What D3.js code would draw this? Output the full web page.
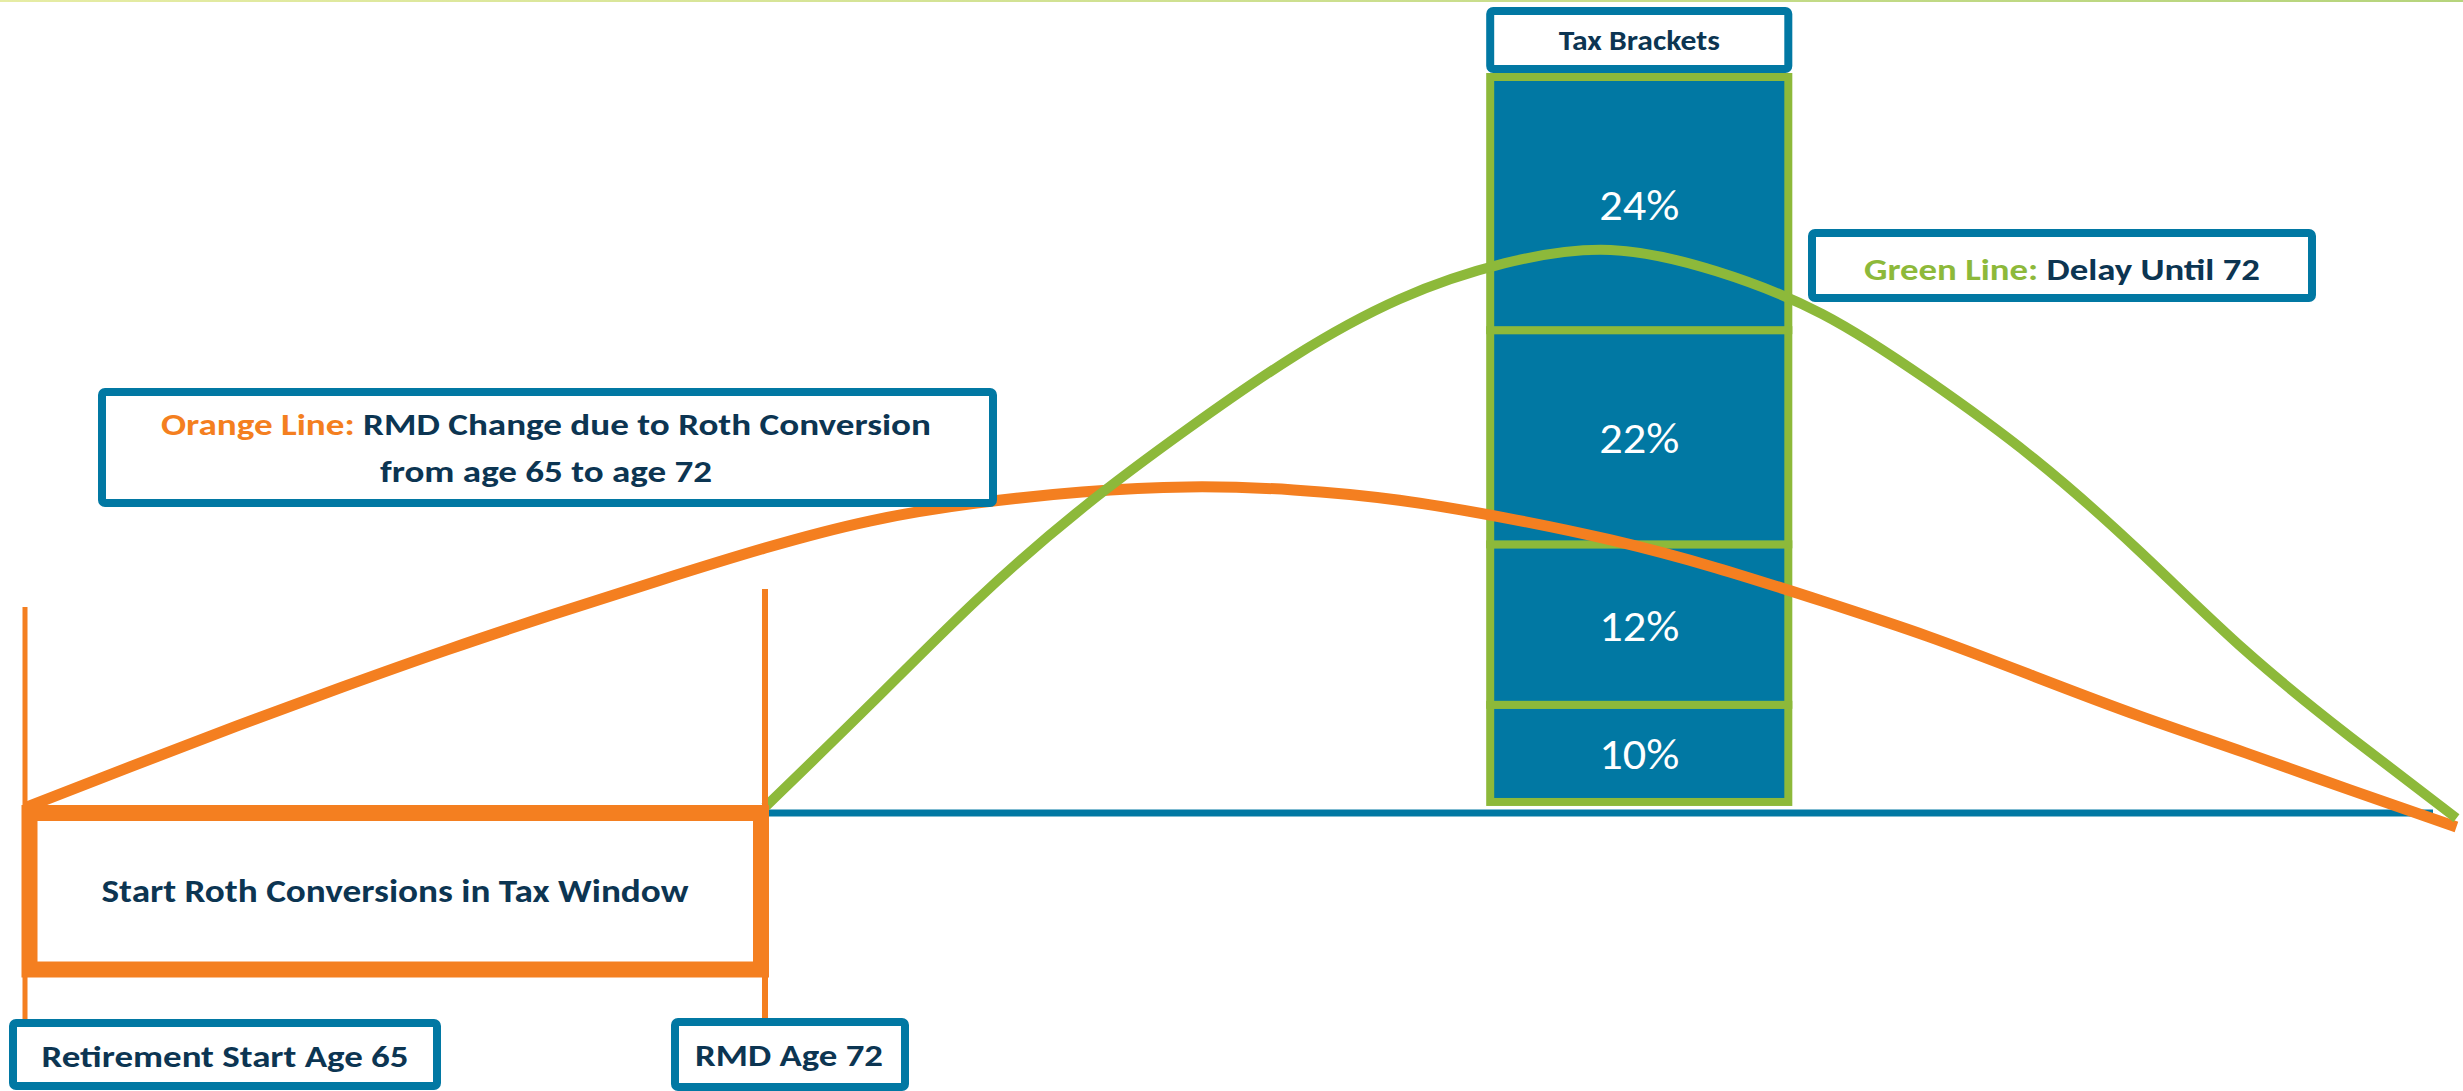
<!DOCTYPE html>
<html>
<head>
<meta charset="utf-8">
<script src="https://cdn.jsdelivr.net/npm/d3@7"></script>
<style>
  html, body { margin: 0; padding: 0; background: #ffffff; }
  svg { display: block; }
</style>
</head>
<body>
<svg id="chart" width="2463" height="1091"></svg>
<script>
// ---- data -------------------------------------------------------------
// Orange line: RMD change with Roth conversions from age 65 to age 72
const orangeAges   = [65, 66, 67, 68, 69, 70, 71, 72, 73, 74, 75, 76, 77, 78, 79, 80, 81, 82, 83, 84, 85, 86, 87, 88];
const orangeValues = [0.7, 6.3, 11.8, 17.1, 22.2, 27.0, 31.6, 36.0, 39.7, 42.1, 43.6, 44.3, 43.9, 42.5, 40.1, 37.1, 33.3, 28.8, 24.0, 18.6, 13.2, 8.2, 3.1, -1.9];

// Green line: delay until 72
const greenAges   = [72, 73, 74, 75, 76, 77, 78, 79, 80, 81, 82, 83, 84, 85, 86, 87, 88];
const greenValues = [0.8, 14.8, 28.9, 41.4, 52.2, 62.0, 69.8, 74.7, 76.5, 73.6, 67.8, 58.8, 48.2, 35.6, 22.1, 10.3, -0.7];

// Tax bracket bands (bottom to top) on the same income axis
const bracketLabels = ["10%", "12%", "22%", "24%"];
const bracketBounds = [1.5, 14.7, 36.5, 65.6, 100];
const bracketAgeSpan = [78.86, 81.68];

// Milestone ages
const milestoneAges   = [65, 72];
const milestoneLabels = ["Retirement Start Age 65", "RMD Age 72"];

// ---- styling ----------------------------------------------------------
const BLUE   = "#0178a3";
const GREEN  = "#8db93a";
const ORANGE = "#f47f20";
const NAVY   = "#0c3552";
const FONT   = "Carlito, Calibri, Lato, 'Noto Sans', sans-serif";

const W = 2463, H = 1091;
const svg = d3.select("#chart");

const x = d3.scaleLinear().domain([65, 88]).range([25, 25 + 23 * 740 / 7]);
const y = d3.scaleLinear().domain([0, 100]).range([813, 77]);

// thin gradient rule along the top edge
const defs = svg.append("defs");
const grad = defs.append("linearGradient").attr("id", "topRule")
  .attr("x1", "0%").attr("x2", "100%");
grad.append("stop").attr("offset", "0%").attr("stop-color", "#e6eca4");
grad.append("stop").attr("offset", "100%").attr("stop-color", "#b6d47c");
svg.append("rect").attr("x", 0).attr("y", 0).attr("width", W).attr("height", 2)
  .attr("fill", "url(#topRule)");

// helper: text squeezed/stretched to a fixed advance width
function fit(sel, w) {
  return sel.attr("textLength", w).attr("lengthAdjust", "spacingAndGlyphs");
}

// ---- baseline ---------------------------------------------------------
svg.append("line")
  .attr("x1", x(72)).attr("x2", W - 30)
  .attr("y1", y(0)).attr("y2", y(0))
  .attr("stroke", BLUE).attr("stroke-width", 7);

// ---- tax bracket column ----------------------------------------------
const colX0 = x(bracketAgeSpan[0]), colX1 = x(bracketAgeSpan[1]);
const colCx = (colX0 + colX1) / 2;
const bands = bracketLabels.map((label, i) => ({
  label, lo: bracketBounds[i], hi: bracketBounds[i + 1]
}));

svg.append("g").selectAll("rect").data(bands).join("rect")
  .attr("x", colX0).attr("width", colX1 - colX0)
  .attr("y", d => y(d.hi)).attr("height", d => y(d.lo) - y(d.hi))
  .attr("fill", BLUE).attr("stroke", GREEN).attr("stroke-width", 8);

svg.append("g").selectAll("text").data(bands).join("text")
  .attr("x", colCx)
  .attr("y", d => (y(d.lo) + y(d.hi)) / 2 + 16)
  .attr("text-anchor", "middle")
  .attr("fill", "#ffffff")
  .attr("font-family", FONT).attr("font-size", 44).attr("font-weight", 400)
  .text(d => d.label)
  .call(fit, 80);

// header above the column
svg.append("rect")
  .attr("x", colX0).attr("y", 11).attr("width", colX1 - colX0).attr("height", 58)
  .attr("rx", 3).attr("fill", "#ffffff").attr("stroke", BLUE).attr("stroke-width", 8);
svg.append("text")
  .attr("x", colCx).attr("y", 50).attr("text-anchor", "middle")
  .attr("fill", NAVY).attr("font-family", FONT).attr("font-size", 29).attr("font-weight", 700)
  .text("Tax Brackets").call(fit, 161);

// ---- curves -----------------------------------------------------------
const line = d3.line().x(d => x(d[0])).y(d => y(d[1])).curve(d3.curveNatural);

svg.append("path")
  .datum(orangeAges.map((a, i) => [a, orangeValues[i]]))
  .attr("d", line).attr("fill", "none")
  .attr("stroke", ORANGE).attr("stroke-width", 11);

svg.append("path")
  .datum(greenAges.map((a, i) => [a, greenValues[i]]))
  .attr("d", line).attr("fill", "none")
  .attr("stroke", GREEN).attr("stroke-width", 10);

// ---- conversion window ------------------------------------------------
const mx = milestoneAges.map(a => x(a));

// thin milestone markers
svg.append("line").attr("x1", mx[0]).attr("x2", mx[0]).attr("y1", 607).attr("y2", 1020)
  .attr("stroke", ORANGE).attr("stroke-width", 5);
svg.append("line").attr("x1", mx[1]).attr("x2", mx[1]).attr("y1", 589).attr("y2", 1020)
  .attr("stroke", ORANGE).attr("stroke-width", 6);

svg.append("rect")
  .attr("x", mx[0] + 4.5).attr("y", y(0))
  .attr("width", mx[1] - mx[0] - 8.5).attr("height", 156.5)
  .attr("fill", "#ffffff").attr("stroke", ORANGE).attr("stroke-width", 16);

svg.append("text")
  .attr("x", 395).attr("y", 902).attr("text-anchor", "middle")
  .attr("fill", NAVY).attr("font-family", FONT).attr("font-size", 32).attr("font-weight", 700)
  .text("Start Roth Conversions in Tax Window").call(fit, 587);

// ---- milestone labels -------------------------------------------------
const labelBoxes = [
  { x: 13, y: 1023, w: 424, h: 63, tx: 225, ty: 1067, tw: 367 },
  { x: 675, y: 1022, w: 230, h: 65, tx: 789, ty: 1066, tw: 188 }
];
labelBoxes.forEach((b, i) => {
  svg.append("rect").attr("x", b.x).attr("y", b.y).attr("width", b.w).attr("height", b.h)
    .attr("rx", 3).attr("fill", "#ffffff").attr("stroke", BLUE).attr("stroke-width", 8);
  svg.append("text").attr("x", b.tx).attr("y", b.ty).attr("text-anchor", "middle")
    .attr("fill", NAVY).attr("font-family", FONT).attr("font-size", 31).attr("font-weight", 700)
    .text(milestoneLabels[i]).call(fit, b.tw);
});

// ---- legends ----------------------------------------------------------
svg.append("rect").attr("x", 102).attr("y", 392).attr("width", 891).attr("height", 111)
  .attr("rx", 3).attr("fill", "#ffffff").attr("stroke", BLUE).attr("stroke-width", 8);
const oLeg = svg.append("text").attr("x", 546).attr("y", 435).attr("text-anchor", "middle")
  .attr("font-family", FONT).attr("font-size", 30).attr("font-weight", 700);
oLeg.append("tspan").attr("fill", ORANGE).text("Orange Line: ");
oLeg.append("tspan").attr("fill", NAVY).text("RMD Change due to Roth Conversion");
fit(oLeg, 770);
svg.append("text").attr("x", 546).attr("y", 482).attr("text-anchor", "middle")
  .attr("fill", NAVY).attr("font-family", FONT).attr("font-size", 30).attr("font-weight", 700)
  .text("from age 65 to age 72").call(fit, 332);

svg.append("rect").attr("x", 1812).attr("y", 233).attr("width", 500).attr("height", 65)
  .attr("rx", 3).attr("fill", "#ffffff").attr("stroke", BLUE).attr("stroke-width", 8);
const gLeg = svg.append("text").attr("x", 2062).attr("y", 280).attr("text-anchor", "middle")
  .attr("font-family", FONT).attr("font-size", 31).attr("font-weight", 700);
gLeg.append("tspan").attr("fill", GREEN).text("Green Line: ");
gLeg.append("tspan").attr("fill", NAVY).text("Delay Until 72");
fit(gLeg, 396);
</script>
</body>
</html>
